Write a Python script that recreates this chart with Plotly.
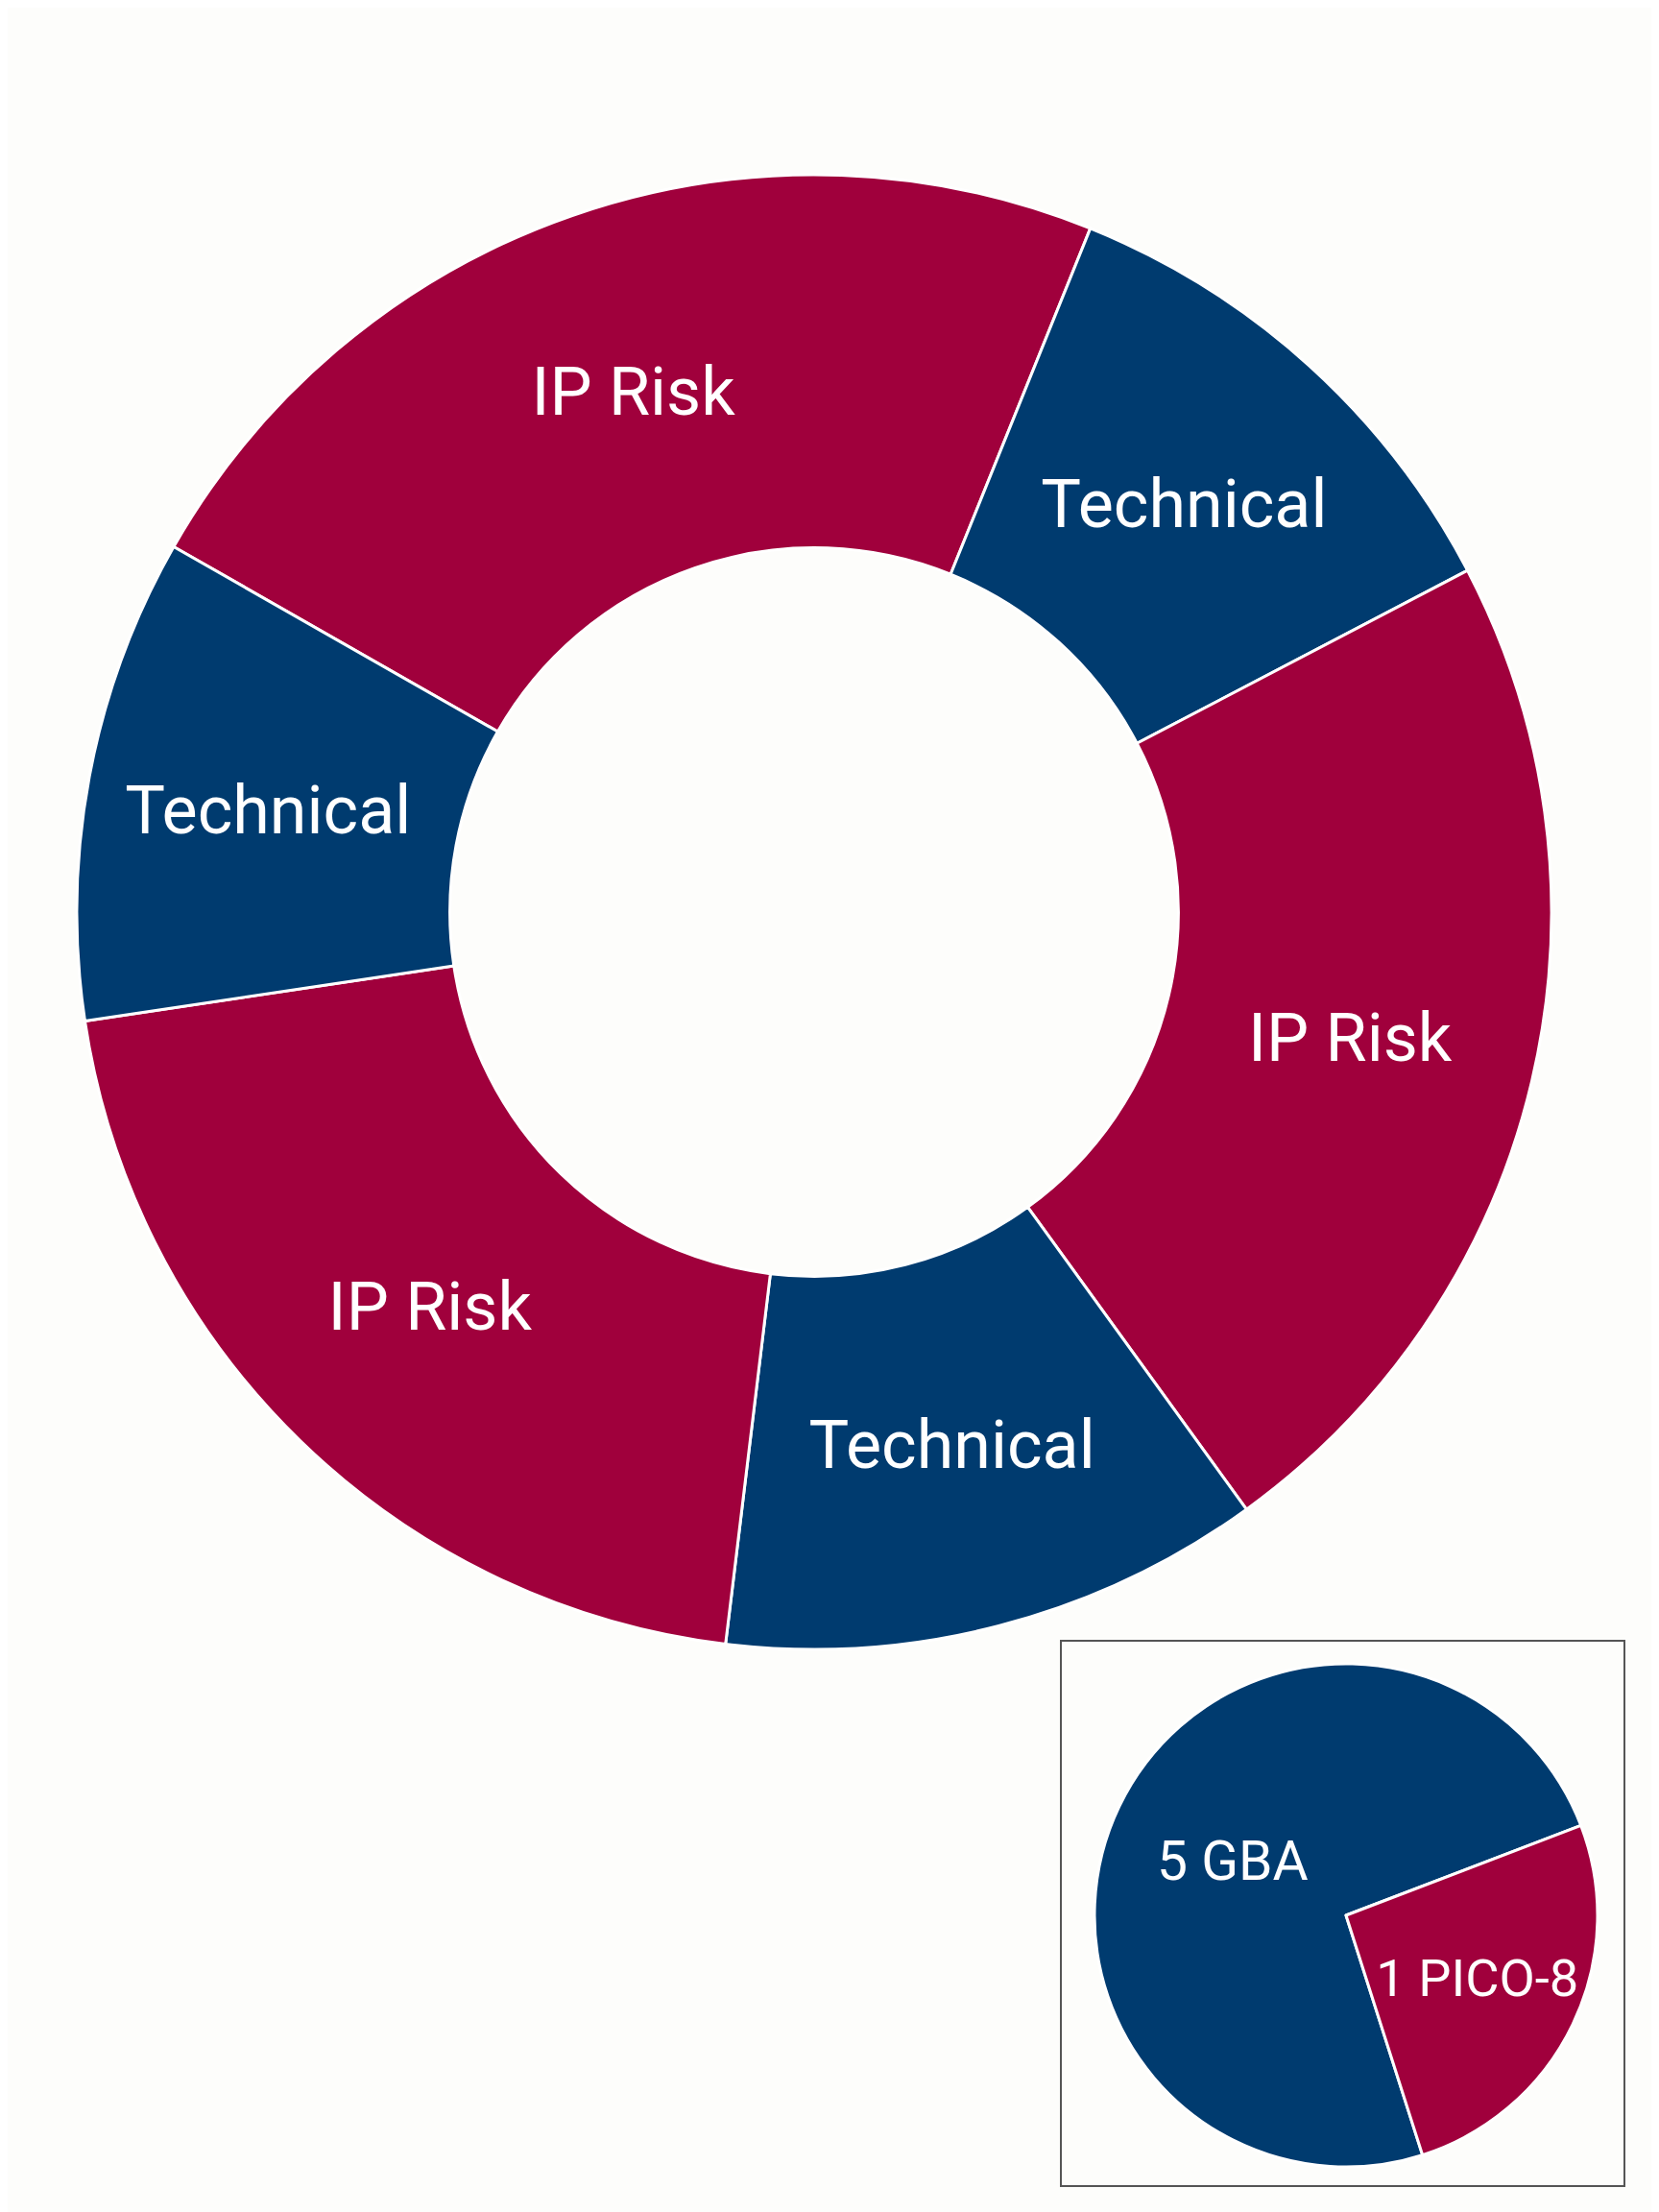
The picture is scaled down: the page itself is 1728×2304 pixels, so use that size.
import plotly.graph_objects as go

# main donut, clockwise from the top-left IP Risk slice
ring_labels = ["IP Risk A", "Technical A", "IP Risk B", "Technical B", "IP Risk C", "Technical C"]
ring_text = ["IP Risk", "Technical", "IP Risk", "Technical", "IP Risk", "Technical"]
ring_values = [82.3, 40.4, 81.7, 42.8, 74.6, 38.2]

# inset pie
inset_labels = ["GBA", "PICO-8"]
inset_text = ["5 GBA", "1 PICO-8"]
inset_values = [74.1, 25.9]

RED = "#A0003C"
BLUE = "#003B6F"
W, H = 1728, 2304
OFF = 8  # page body margin in the browser

ring_colors = [RED if t == "IP Risk" else BLUE for t in ring_text]


def dx(px):
    return (px - OFF) / W


def dy(px):
    return (px + OFF) / H


fig = go.Figure()

fig.add_trace(go.Pie(
    labels=ring_labels,
    values=ring_values,
    text=ring_text,
    textinfo="text",
    textposition="inside",
    insidetextorientation="horizontal",
    sort=False,
    direction="clockwise",
    rotation=299.7,
    hole=0.494,
    marker=dict(colors=ring_colors, line=dict(color="white", width=3)),
    textfont=dict(family="Roboto", size=70, color="white"),
    domain=dict(x=[dx(80), dx(1616)], y=[dy(586), dy(2122)]),
    showlegend=False,
))

fig.add_trace(go.Pie(
    labels=inset_labels,
    values=inset_values,
    text=inset_text,
    textinfo="text",
    textposition="inside",
    insidetextorientation="horizontal",
    sort=False,
    direction="clockwise",
    rotation=162.3,
    marker=dict(colors=[BLUE, RED], line=dict(color="white", width=3)),
    textfont=dict(family="Roboto", size=57, color="white"),
    domain=dict(x=[dx(1140), dx(1664)], y=[dy(47), dy(571)]),
    showlegend=False,
))

# frame round the inset
fig.add_shape(type="rect", xref="paper", yref="paper",
              x0=dx(1105), x1=dx(1692), y0=dy(27), y1=dy(595),
              line=dict(color="#555555", width=2))

fig.update_layout(
    width=W, height=H,
    margin=dict(l=0, r=0, t=0, b=0),
    paper_bgcolor="#FDFDFB",
    plot_bgcolor="#FDFDFB",
    uniformtext=dict(minsize=10),
)

fig.write_html("out.html")
